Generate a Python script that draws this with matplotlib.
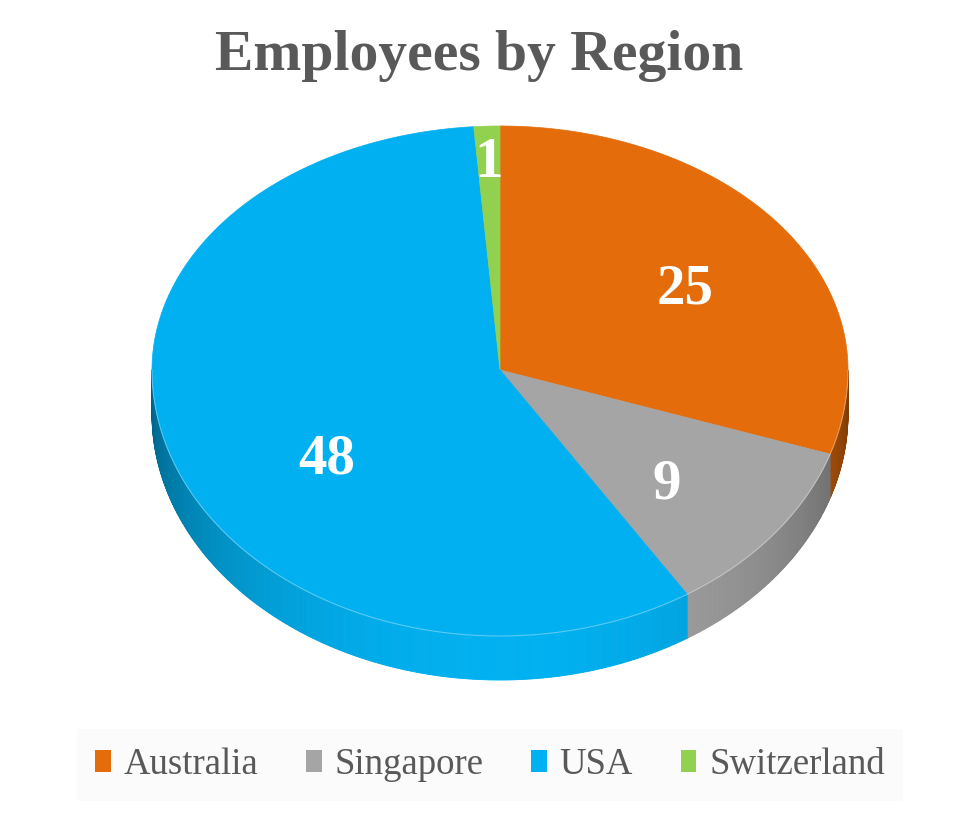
"""
Employees by Region - 3D pie chart (Excel style) redrawn with matplotlib.
"""

import matplotlib
matplotlib.use("Agg")
import matplotlib.pyplot as plt
import numpy as np
from matplotlib.collections import PolyCollection
from matplotlib.colors import to_rgb
from matplotlib.patches import Patch, Polygon

# data
regions = ["Australia", "Singapore", "USA", "Switzerland"]
employees = [25, 9, 48, 1]
colors = ["#E46C0A", "#A5A5A5", "#00B0F0", "#92D050"]

# layout (pixel space, y grows downward)
W, H = 973, 817
CX, CY = 500, 370
RX = 348
RY_BACK, RY_FRONT = 244, 266   # fake perspective: front half a bit taller
DEPTH = 44
LABEL_R = [0.625, 0.645, 0.6, 0.85]
LABEL_DA = [-4, -4, 15.5, 0]
SERIF = "Liberation Serif"
GREY_TXT = "#595959"


def proj(t_deg):
    t = np.radians(t_deg)
    s = np.sin(t)
    x = CX + RX * np.cos(t)
    y = CY - np.where(s > 0, RY_BACK, RY_FRONT) * s
    return x, y


def shade(t_deg):
    # brightest at the front (-90 deg), darker towards the sides
    return 0.55 + 0.45 * np.maximum(np.cos(np.radians(t_deg + 90)), 0)


def main():
    fig = plt.figure(figsize=(W / 100, H / 100), dpi=100)
    ax = fig.add_axes([0, 0, 1, 1])
    ax.set_xlim(0, W)
    ax.set_ylim(H, 0)
    ax.axis("off")

    total = sum(employees)
    vals = np.array(employees, dtype=float)
    starts = 90 - np.concatenate([[0], np.cumsum(vals)[:-1]]) * 360 / total
    ends = starts - vals * 360 / total

    # side walls (front half only)
    quads, qcols = [], []
    for th1, th2, c in zip(starts, ends, colors):
        ts = np.linspace(th2, th1, max(int((th1 - th2) * 3), 2))
        rgb = np.array(to_rgb(c))
        for a, b in zip(ts[:-1], ts[1:]):
            mid = (a + b) / 2
            if np.sin(np.radians(mid)) >= 0:
                continue
            xa, ya = proj(a)
            xb, yb = proj(b)
            quads.append([(xa, ya), (xb, yb), (xb, yb + DEPTH), (xa, ya + DEPTH)])
            qcols.append(np.clip(rgb * shade(mid), 0, 1))
    ax.add_collection(PolyCollection(quads, facecolors=qcols, edgecolors=qcols,
                                     linewidths=0.6))

    # top faces
    for th1, th2, c in zip(starts, ends, colors):
        ts = np.linspace(th1, th2, 200)
        xs, ys = proj(ts)
        pts = np.column_stack([np.r_[CX, xs], np.r_[CY, ys]])
        ax.add_patch(Polygon(pts, closed=True, facecolor=c, edgecolor=c, lw=0.5))

    # thin highlight along the front rim
    ts = np.linspace(-180, 0, 300)
    xs, ys = proj(ts)
    ax.plot(xs, ys, color="white", lw=0.8, alpha=0.35)

    # data labels
    for th1, th2, v, r, da in zip(starts, ends, employees, LABEL_R, LABEL_DA):
        mid = (th1 + th2) / 2 + da
        t = np.radians(mid)
        s = np.sin(t)
        lx = CX + r * RX * np.cos(t)
        ly = CY - r * (RY_BACK if s > 0 else RY_FRONT) * s
        ax.text(lx, ly, str(v), ha="center", va="center", color="white",
                fontsize=41, fontweight="bold", family=SERIF)

    ax.text(479, 56, "Employees by Region", ha="center", va="center",
            color=GREY_TXT, fontsize=41.5, fontweight="bold", family=SERIF)

    handles = [Patch(facecolor=c, edgecolor="none") for c in colors]
    leg = ax.legend(handles, regions, loc="center", ncol=4,
                    bbox_to_anchor=(490 / W, 1 - 765 / H),
                    bbox_transform=fig.transFigure,
                    prop={"family": SERIF, "size": 26.5},
                    labelcolor=GREY_TXT, handlelength=0.42, handleheight=0.55,
                    handletextpad=0.35, columnspacing=1.3, borderpad=0.5,
                    frameon=True, fancybox=False)
    leg.get_frame().set_facecolor("#fafafa")
    leg.get_frame().set_edgecolor("none")

    fig.savefig("out.png", dpi=100)
    plt.close(fig)


if __name__ == "__main__":
    main()
